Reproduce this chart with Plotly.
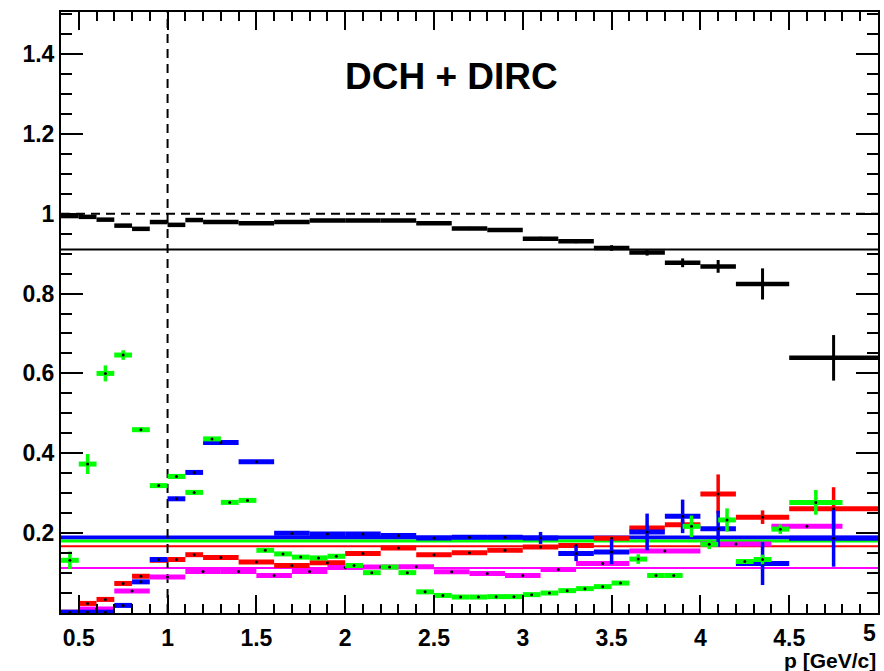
import plotly.graph_objects as go

# ---------------- data ----------------
edges_main = [0.4, 0.5, 0.6, 0.7, 0.8, 0.9, 1.0, 1.1, 1.2, 1.4, 1.6, 1.8, 2.0, 2.2,
              2.4, 2.6, 2.8, 3.0, 3.2, 3.4, 3.6, 3.8, 4.0, 4.2, 4.5, 5.0]

black_vals = [0.994, 0.992, 0.985, 0.970, 0.962, 0.979, 0.972, 0.984, 0.979, 0.976,
              0.979, 0.983, 0.983, 0.983, 0.976, 0.963, 0.959, 0.937, 0.931, 0.914,
              0.903, 0.877, 0.868, 0.824, 0.639]
black_err = [0.003, 0.003, 0.003, 0.003, 0.003, 0.003, 0.003, 0.003, 0.003, 0.003,
             0.003, 0.003, 0.003, 0.003, 0.003, 0.004, 0.004, 0.005, 0.005, 0.007,
             0.008, 0.011, 0.016, 0.039, 0.057]

blue_vals = [0.002, 0.002, 0.002, 0.019, 0.078, 0.134, 0.286, 0.352, 0.427, 0.379,
             0.200, 0.198, 0.198, 0.194, 0.188, 0.190, 0.190, 0.188, 0.149, 0.153,
             0.203, 0.242, 0.211, 0.124, 0.187]
blue_err = [0.002, 0.002, 0.002, 0.004, 0.004, 0.004, 0.005, 0.005, 0.004, 0.004,
            0.003, 0.003, 0.003, 0.003, 0.003, 0.004, 0.004, 0.015, 0.019, 0.031,
            0.046, 0.042, 0.045, 0.054, 0.071]

red_vals = [0.002, 0.024, 0.034, 0.074, 0.092, 0.132, 0.134, 0.146, 0.139, 0.128,
            0.119, 0.126, 0.149, 0.163, 0.146, 0.151, 0.157, 0.165, 0.169, 0.187,
            0.213, 0.221, 0.298, 0.240, 0.261]
red_err = [0.002, 0.004, 0.004, 0.004, 0.004, 0.004, 0.004, 0.004, 0.003, 0.003,
           0.003, 0.003, 0.003, 0.003, 0.003, 0.003, 0.003, 0.004, 0.004, 0.006,
           0.006, 0.012, 0.049, 0.017, 0.054]

edges_green = [0.4, 0.5, 0.6, 0.7, 0.8, 0.9, 1.0, 1.1, 1.2, 1.3, 1.4, 1.5, 1.6, 1.7,
               1.8, 1.9, 2.0, 2.1, 2.2, 2.3, 2.4, 2.5, 2.6, 2.7, 2.8, 2.9, 3.0, 3.1,
               3.2, 3.3, 3.4, 3.5, 3.6, 3.7, 3.8, 3.9, 4.0, 4.1, 4.2, 4.3, 4.4, 4.5, 4.8]
green_vals = [0.132, 0.373, 0.600, 0.646, 0.459, 0.319, 0.342, 0.302, 0.436, 0.277,
              0.282, 0.157, 0.148, 0.140, 0.138, 0.142, 0.119, 0.101, 0.115, 0.101,
              0.053, 0.044, 0.040, 0.040, 0.041, 0.041, 0.046, 0.050, 0.056, 0.061,
              0.066, 0.075, 0.135, 0.094, 0.094, 0.217, 0.172, 0.233, 0.129, 0.134,
              0.210, 0.277]
green_err = [0.022, 0.025, 0.020, 0.012, 0.006, 0.006, 0.005, 0.005, 0.005, 0.004,
             0.004, 0.004, 0.003, 0.003, 0.003, 0.003, 0.003, 0.003, 0.003, 0.003,
             0.003, 0.003, 0.003, 0.003, 0.003, 0.003, 0.003, 0.003, 0.003, 0.003,
             0.003, 0.003, 0.012, 0.003, 0.003, 0.027, 0.012, 0.029, 0.005, 0.012,
             0.012, 0.031]

edges_magenta = [0.5, 0.7, 0.9, 1.1, 1.3, 1.5, 1.7, 1.9, 2.1, 2.3, 2.5, 2.7, 2.9,
                 3.1, 3.3, 3.6, 4.0, 4.4, 4.8]
magenta_vals = [0.010, 0.055, 0.090, 0.104, 0.104, 0.094, 0.104, 0.114, 0.115, 0.116,
                0.103, 0.099, 0.094, 0.109, 0.124, 0.155, 0.173, 0.217]
magenta_err = [0.003] * 15 + [0.004, 0.004, 0.005]

# reference levels
level_names = ["blue", "green", "red", "magenta"]
level_vals = [0.189, 0.180, 0.167, 0.113]
level_colors = ["#0000ff", "#00ff00", "#ff0000", "#ff00ff"]
level_widths = [4, 3, 2, 2]
black_level = 0.91
unity_level = 1.0
x_cut = 1.0

x_ticks = [0.5, 1, 1.5, 2, 2.5, 3, 3.5, 4, 4.5]
x_tick_text = ["0.5", "1", "1.5", "2", "2.5", "3", "3.5", "4", "4.5"]
x_last_label = "5"
y_ticks = [0.2, 0.4, 0.6, 0.8, 1.0, 1.2, 1.4]
y_tick_text = ["0.2", "0.4", "0.6", "0.8", "1", "1.2", "1.4"]

title_text = "DCH + DIRC"
x_title = "p [GeV/c]"


def centers(edges):
    return [(edges[i] + edges[i + 1]) / 2 for i in range(len(edges) - 1)]


def halfw(edges):
    return [(edges[i + 1] - edges[i]) / 2 for i in range(len(edges) - 1)]


fig = go.Figure()

# horizontal reference lines (traces through the axes)
for name, val, col, w in zip(level_names, level_vals, level_colors, level_widths):
    fig.add_trace(go.Scatter(x=[0.4, 5.0], y=[val, val], mode="lines",
                             line=dict(color=col, width=w), showlegend=False,
                             hoverinfo="skip"))
fig.add_trace(go.Scatter(x=[0.4, 5.0], y=[black_level, black_level], mode="lines",
                         line=dict(color="black", width=2), showlegend=False))
fig.add_trace(go.Scatter(x=[0.4, 5.0], y=[unity_level, unity_level], mode="lines",
                         line=dict(color="black", width=2, dash="9px,6px"),
                         showlegend=False))
fig.add_trace(go.Scatter(x=[x_cut, x_cut], y=[0.0, 1.505], mode="lines",
                         line=dict(color="black", width=2, dash="9px,6px"),
                         showlegend=False))


def add_series(edges, vals, errs, color, xthick=5, ythick=3.5, msize=3):
    fig.add_trace(go.Scatter(
        x=centers(edges), y=vals, mode="markers",
        marker=dict(color="black", size=msize, symbol="circle"),
        error_x=dict(type="data", array=halfw(edges), color=color,
                     thickness=xthick, width=0),
        error_y=dict(type="data", array=errs, color=color,
                     thickness=ythick, width=0),
        showlegend=False))


add_series(edges_main, red_vals, red_err, "#ff0000")
add_series(edges_magenta, magenta_vals, magenta_err, "#ff00ff")
add_series(edges_main, blue_vals, blue_err, "#0000ff")
add_series(edges_green, green_vals, green_err, "#00ff00")
add_series(edges_main, black_vals, black_err, "#000000", xthick=4.5, ythick=3, msize=2)

fontfam = "Liberation Sans, Arial, sans-serif"

fig.update_layout(
    width=884, height=671,
    margin=dict(l=61, r=4, t=12, b=58),
    paper_bgcolor="white", plot_bgcolor="white",
    showlegend=False,
    annotations=[
        dict(text=title_text, x=0.478, y=0.892, xref="paper", yref="paper",
             showarrow=False, xanchor="center", yanchor="middle",
             font=dict(family=fontfam, size=37, color="black", weight="bold")),
        dict(text=x_title, x=1.0, y=-0.079, xref="paper", yref="paper",
             showarrow=False, xanchor="right", yanchor="middle",
             font=dict(family=fontfam, size=21, color="black", weight="bold")),
        dict(text=x_last_label, x=1.0, y=-0.033, xref="paper", yref="paper",
             showarrow=False, xanchor="right", yanchor="middle",
             font=dict(family=fontfam, size=23, color="black", weight="bold")),
    ],
)

fig.update_xaxes(
    range=[0.4, 5.0], showgrid=False, zeroline=False,
    showline=True, linecolor="black", linewidth=2, mirror="allticks",
    ticks="inside", ticklen=18, tickwidth=2, tickcolor="black",
    tickmode="array", tickvals=x_ticks, ticktext=x_tick_text,
    tickfont=dict(family=fontfam, size=23, color="black", weight="bold"),
    ticklabelstandoff=3,
    minor=dict(ticks="inside", ticklen=9, tickwidth=2, tickcolor="black",
               tickmode="linear", tick0=0.4, dtick=0.1),
)
fig.update_yaxes(
    range=[0.0, 1.505], showgrid=False, zeroline=False,
    showline=True, linecolor="black", linewidth=2, mirror="allticks",
    ticks="inside", ticklen=22, tickwidth=2, tickcolor="black",
    tickmode="array", tickvals=y_ticks, ticktext=y_tick_text,
    tickfont=dict(family=fontfam, size=23, color="black", weight="bold"),
    minor=dict(ticks="inside", ticklen=11, tickwidth=2, tickcolor="black",
               tickmode="linear", tick0=0.0, dtick=0.05),
)

fig.write_html("out.html")
